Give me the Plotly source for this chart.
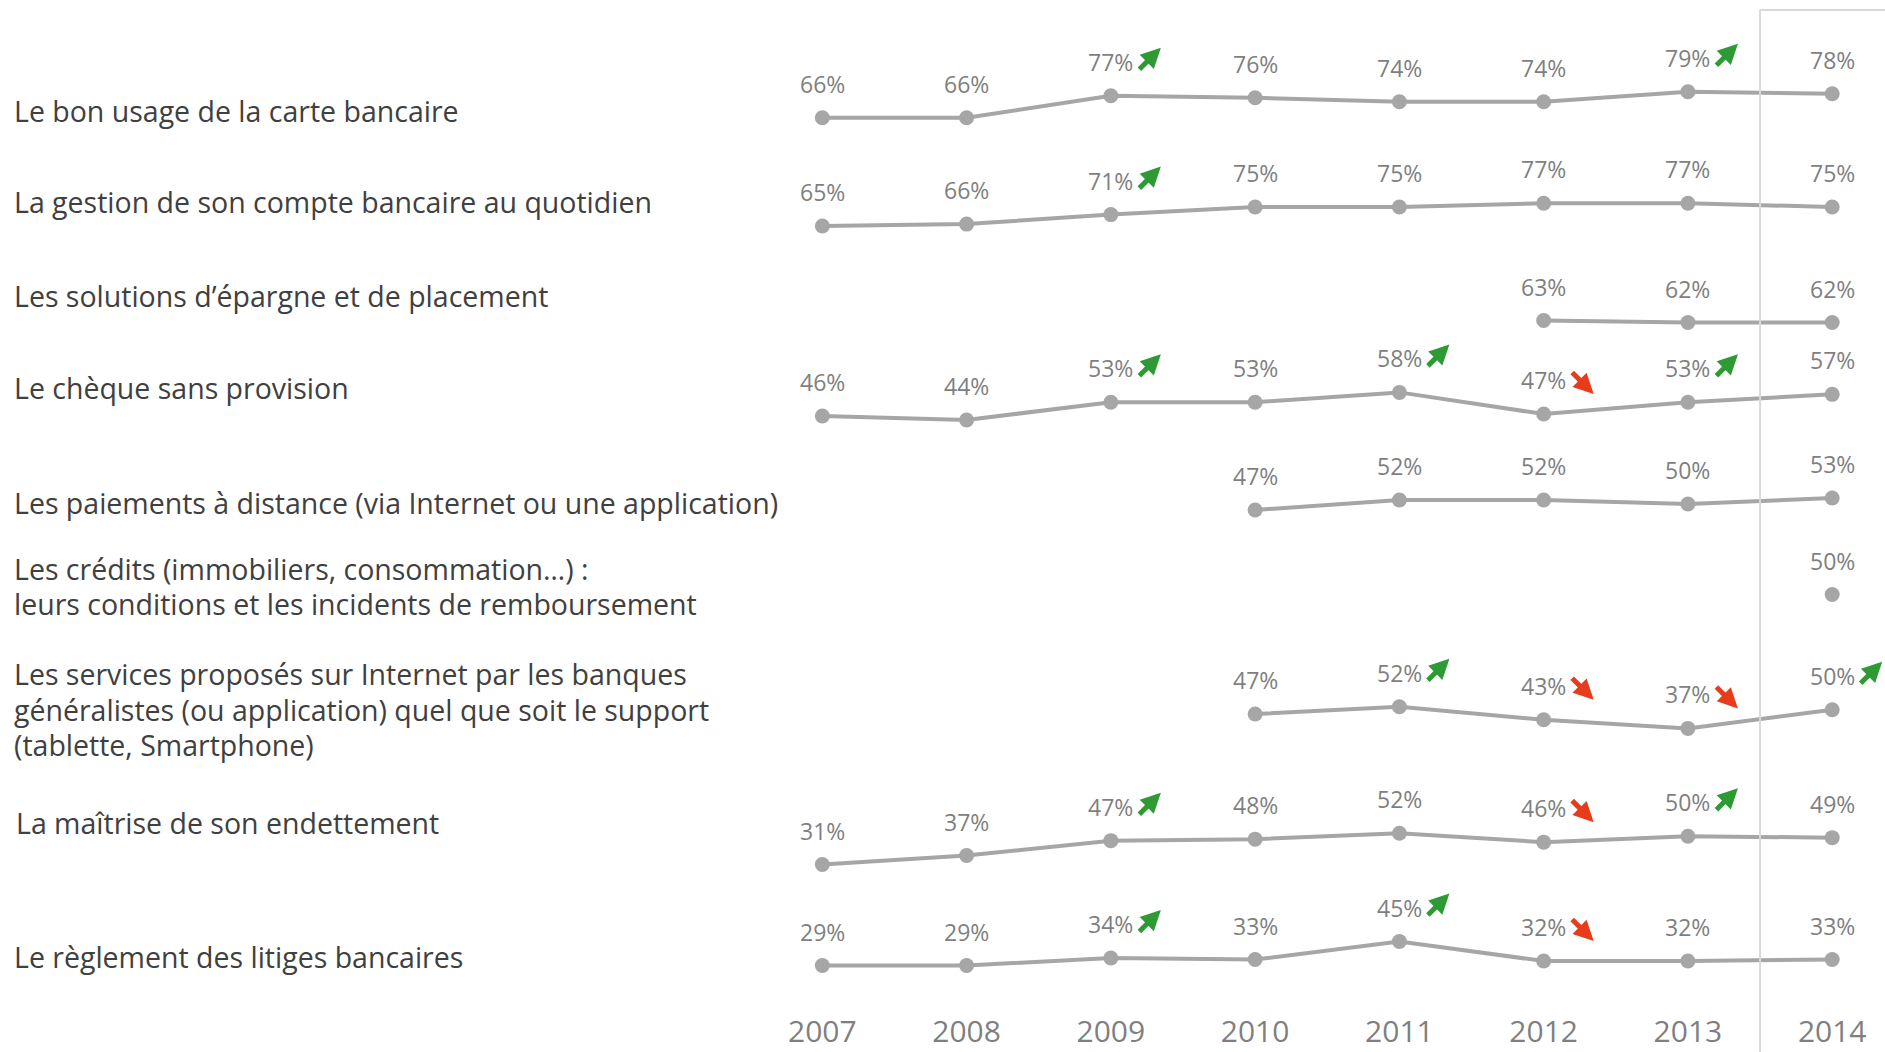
import plotly.graph_objects as go

# ---- data -----------------------------------------------------------------
years = [2007, 2008, 2009, 2010, 2011, 2012, 2013, 2014]

# topic labels, one entry per row (multi-line labels as lists of lines)
topics = [
    ["Le bon usage de la carte bancaire"],
    ["La gestion de son compte bancaire au quotidien"],
    ["Les solutions d’épargne et de placement"],
    ["Le chèque sans provision"],
    ["Les paiements à distance (via Internet ou une application)"],
    ["Les crédits (immobiliers, consommation…) :",
     "leurs conditions et les incidents de remboursement"],
    ["Les services proposés sur Internet par les banques",
     "généralistes (ou application) quel que soit le support",
     "(tablette, Smartphone)"],
    ["La maîtrise de son endettement"],
    ["Le règlement des litiges bancaires"],
]

carte = [66, 66, 77, 76, 74, 74, 79, 78]
compte = [65, 66, 71, 75, 75, 77, 77, 75]
epargne = [None, None, None, None, None, 63, 62, 62]
cheque = [46, 44, 53, 53, 58, 47, 53, 57]
paiements = [None, None, None, 47, 52, 52, 50, 53]
credits = [None, None, None, None, None, None, None, 50]
internet = [None, None, None, 47, 52, 43, 37, 50]
endettement = [31, 37, 47, 48, 52, 46, 50, 49]
litiges = [29, 29, 34, 33, 45, 32, 32, 33]

# significant change vs previous wave: 1 = rise, -1 = fall, 0 = none
carte_trend = [0, 0, 1, 0, 0, 0, 1, 0]
compte_trend = [0, 0, 1, 0, 0, 0, 0, 0]
epargne_trend = [0, 0, 0, 0, 0, 0, 0, 0]
cheque_trend = [0, 0, 1, 0, 1, -1, 1, 0]
paiements_trend = [0, 0, 0, 0, 0, 0, 0, 0]
credits_trend = [0, 0, 0, 0, 0, 0, 0, 0]
internet_trend = [0, 0, 0, 0, 1, -1, -1, 1]
endettement_trend = [0, 0, 1, 0, 0, -1, 1, 0]
litiges_trend = [0, 0, 1, 0, 1, -1, 0, 0]

series = [carte, compte, epargne, cheque, paiements, credits, internet, endettement, litiges]
trends = [carte_trend, compte_trend, epargne_trend, cheque_trend, paiements_trend,
          credits_trend, internet_trend, endettement_trend, litiges_trend]

# ---- layout settings ------------------------------------------------------
W, H = 1885, 1052
FONT = "Open Sans, Noto Sans, sans-serif"
LINE_COL = "#a6a6a6"
VALUE_COL = "#7f7f7f"
TEXT_COL = "#404040"
UP_COL = "#2e9a34"
DOWN_COL = "#e63c1c"

# each row: pixel band [top, bottom] from the top of the figure and y range
row_band_px = [[69.8, 165.8], [178.0, 274.0], [272.5, 368.5], [368.0, 464.0],
               [462.0, 558.0], [546.5, 642.5], [666.0, 762.0], [816.5, 912.5],
               [918.0, 1010.5]]
row_range = [[42, 90], [39.7, 90.3], [39, 87], [21.6, 70.4], [23, 71],
             [26, 74], [13.7, 80.3], [-1.2, 63.2], [-1.0, 60.67]]

# left-hand topic labels: first-line centre (px from top), left offset, line step
label_y_px = [110.6, 202, 295.5, 387.5, 503, 568.6, 674.4, 823, 957]
label_x_px = [12, 12, 12, 12, 12, 12, 12, 14, 12]
line_step_px = 35.5

x_domain = [0.38, 1.0]
x_range = [2006.265, 2014.366]

fig = go.Figure()
annotations = []

for i, (vals, trend) in enumerate(zip(series, trends)):
    n = i + 1
    xa = "x" if n == 1 else f"x{n}"
    ya = "y" if n == 1 else f"y{n}"
    fig.add_trace(go.Scatter(
        x=years, y=vals, mode="lines+markers",
        line=dict(color=LINE_COL, width=4),
        marker=dict(color=LINE_COL, size=15),
        connectgaps=False, cliponaxis=False, hoverinfo="skip",
        xaxis=xa, yaxis=ya, showlegend=False,
    ))

    top, bot = row_band_px[i]
    ykey = "yaxis" if n == 1 else f"yaxis{n}"
    xkey = "xaxis" if n == 1 else f"xaxis{n}"
    fig.layout[ykey] = dict(domain=[1 - bot / H, 1 - top / H], range=row_range[i],
                            visible=False, anchor=xa, fixedrange=True,
                            automargin=False)
    last = i == len(series) - 1
    fig.layout[xkey] = dict(
        domain=x_domain, range=x_range, anchor=ya,
        showgrid=False, zeroline=False, showline=False,
        showticklabels=last, tickmode="array", tickvals=years,
        ticktext=[str(y) for y in years],
        tickfont=dict(family=FONT, size=30, color=VALUE_COL),
        ticks="", ticklabelstandoff=0, fixedrange=True, automargin=False,
        **({} if n == 1 else {"matches": "x"}),
    )

    for yr, v, t in zip(years, vals, trend):
        if v is None:
            continue
        annotations.append(dict(
            x=yr, y=v, xref=xa, yref=ya, text=f"{v}%", showarrow=False,
            yshift=34, font=dict(family=FONT, size=23, color=VALUE_COL),
        ))
        if t == 1:
            annotations.append(dict(
                x=yr, y=v, xref=xa, yref=ya, text="", showarrow=True,
                xshift=50, yshift=48, ax=-23, ay=23, standoff=0, startstandoff=0,
                arrowhead=2, arrowsize=0.8, arrowwidth=5, arrowcolor=UP_COL,
            ))
        elif t == -1:
            annotations.append(dict(
                x=yr, y=v, xref=xa, yref=ya, text="", showarrow=True,
                xshift=50, yshift=20, ax=-23, ay=-23, standoff=0, startstandoff=0,
                arrowhead=2, arrowsize=0.8, arrowwidth=5, arrowcolor=DOWN_COL,
            ))

for lines, ypx, xpx in zip(topics, label_y_px, label_x_px):
    for k, line in enumerate(lines):
        annotations.append(dict(
            x=xpx / W, y=1 - (ypx + k * line_step_px) / H, xref="paper", yref="paper",
            xanchor="left", yanchor="middle", align="left", showarrow=False,
            text=line, font=dict(family=FONT, size=28.5, color=TEXT_COL),
        ))

# frame around the latest wave
shapes = [
    dict(type="line", xref="x", yref="paper", x0=2013.5, x1=2013.5,
         y0=0, y1=1 - 10 / H, line=dict(color="#d9d9d9", width=2)),
    dict(type="line", xref="x", yref="paper", x0=2013.5, x1=2015,
         y0=1 - 10 / H, y1=1 - 10 / H, line=dict(color="#d9d9d9", width=2)),
]

fig.update_layout(
    width=W, height=H, margin=dict(l=0, r=0, t=0, b=0, autoexpand=False),
    paper_bgcolor="white", plot_bgcolor="rgba(0,0,0,0)",
    annotations=annotations, shapes=shapes, showlegend=False,
)

fig.write_html("out.html")
